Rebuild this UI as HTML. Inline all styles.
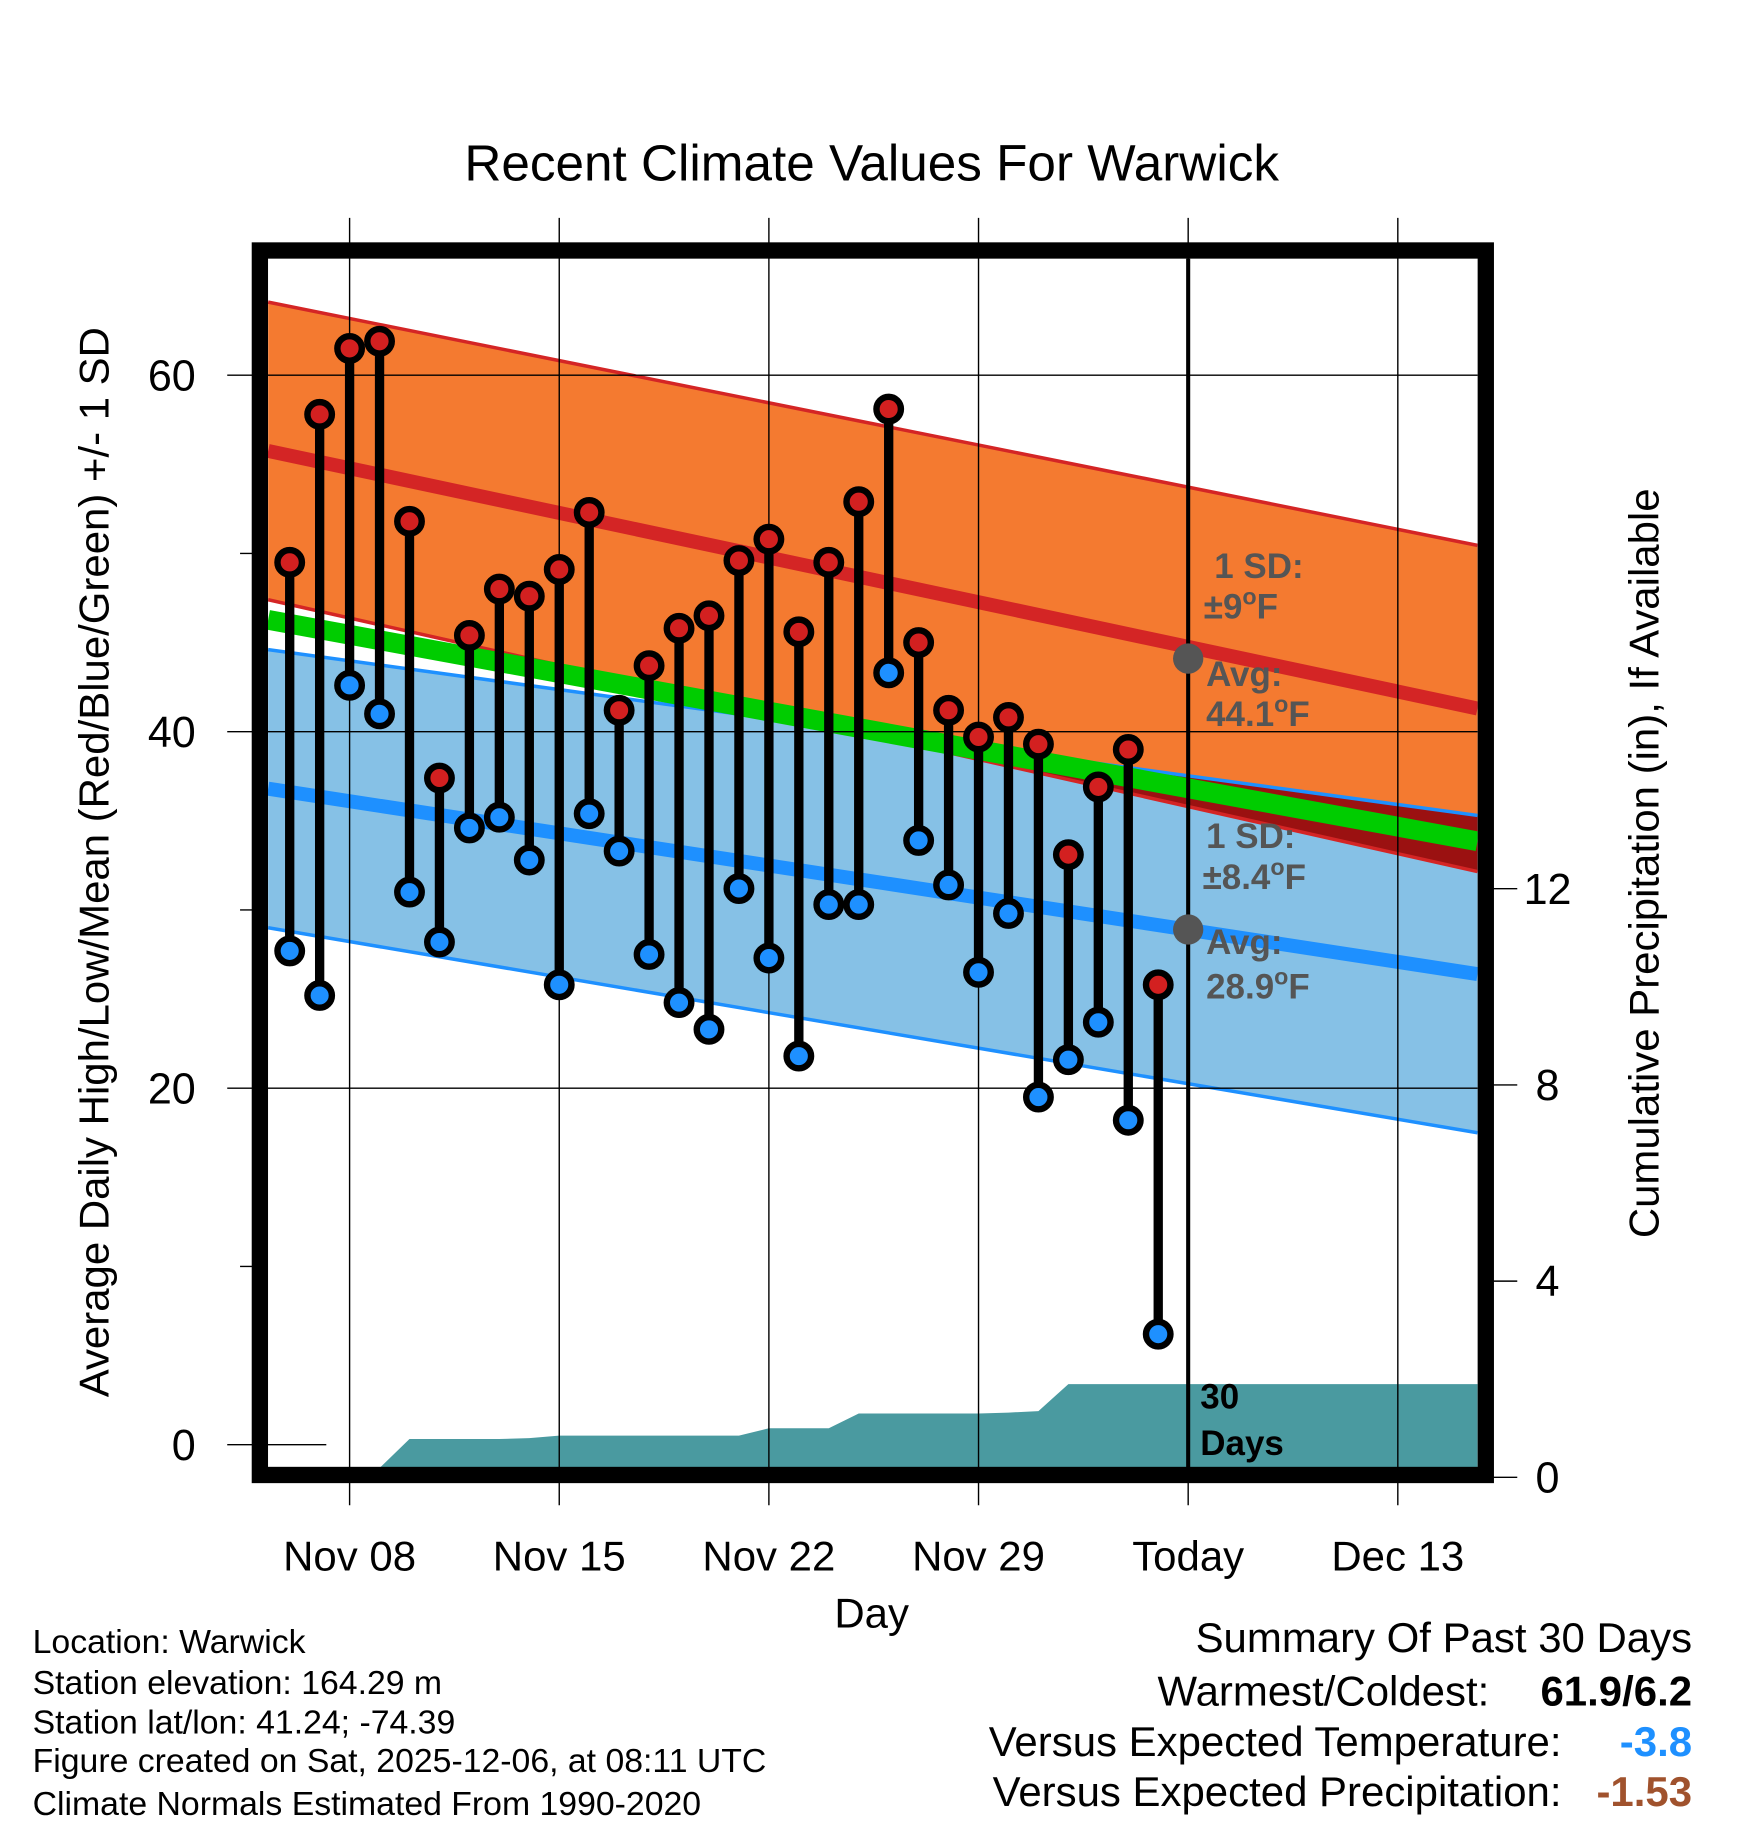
<!DOCTYPE html>
<html><head><meta charset="utf-8"><style>
html,body{margin:0;padding:0;background:#fff}
svg{display:block;font-family:"Liberation Sans",Arial,sans-serif}
</style></head><body>
<svg id="chart" width="1748" height="1828" viewBox="0 0 1500 1569" preserveAspectRatio="none" xmlns="http://www.w3.org/2000/svg">
<defs><clipPath id="plotclip"><rect x="230" y="222" width="1038" height="1038"/></clipPath></defs>
<rect x="0" y="0" width="1500" height="1569" fill="#fff"/>
<g id="bands" clip-path="url(#plotclip)"></g>
<g id="grid"></g>
<g id="marks"></g>
<rect x="223" y="215" width="1052" height="1051" fill="none" stroke="#000" stroke-width="14"/>
<text x="748" y="155" font-size="44" text-anchor="middle">Recent Climate Values For Warwick</text>
<text transform="translate(93,740) rotate(-90)" font-size="36" text-anchor="middle">Average Daily High/Low/Mean (Red/Blue/Green) +/- 1 SD</text>
<text transform="translate(1423,741) rotate(-90)" font-size="36" text-anchor="middle">Cumulative Precipitation (in), If Available</text>
<text x="748" y="1397" font-size="36" text-anchor="middle">Day</text>
<g font-size="30" font-weight="bold" fill="#555">
<text x="1042" y="496">1 SD:</text><text x="1033" y="531">±9<tspan font-size="20" dy="-12">o</tspan><tspan dy="12">F</tspan></text>
<text x="1035" y="589">Avg:</text><text x="1035" y="623">44.1<tspan font-size="20" dy="-12">o</tspan><tspan dy="12">F</tspan></text>
<text x="1035" y="728">1 SD:</text><text x="1032" y="763">±8.4<tspan font-size="20" dy="-12">o</tspan><tspan dy="12">F</tspan></text>
<text x="1035" y="819">Avg:</text><text x="1035" y="857">28.9<tspan font-size="20" dy="-12">o</tspan><tspan dy="12">F</tspan></text>
<text x="1030" y="1209" fill="#000">30</text><text x="1030" y="1249" fill="#000">Days</text>
</g>
<g font-size="29">
<text x="28" y="1419">Location: Warwick</text>
<text x="28" y="1454">Station elevation: 164.29 m</text>
<text x="28" y="1488">Station lat/lon: 41.24; -74.39</text>
<text x="28" y="1521">Figure created on Sat, 2025-12-06, at 08:11 UTC</text>
<text x="28" y="1558">Climate Normals Estimated From 1990-2020</text>
</g>
<g font-size="36">
<text x="1452" y="1418" text-anchor="end">Summary Of Past 30 Days</text>
<text x="1278" y="1464" text-anchor="end">Warmest/Coldest:</text>
<text x="1452" y="1464" text-anchor="end" font-weight="bold">61.9/6.2</text>
<text x="1340" y="1507" text-anchor="end">Versus Expected Temperature:</text>
<text x="1452" y="1507" text-anchor="end" font-weight="bold" fill="#1e90ff">-3.8</text>
<text x="1340" y="1550" text-anchor="end">Versus Expected Precipitation:</text>
<text x="1452" y="1550" text-anchor="end" font-weight="bold" fill="#a0522d">-1.53</text>
</g>
</svg>
<script>
// day index 0 = Nov 08
const days = [-2,-1,0,1,2,3,4,5,6,7,8,9,10,11,12,13,14,15,16,17,18,19,20,21,22,23,24,25,26,27];
const highs = [49.5,57.8,61.5,61.9,51.8,37.4,45.4,48.0,47.6,49.1,52.3,41.2,43.7,45.8,46.5,49.6,50.8,45.6,49.5,52.9,58.1,45.0,41.2,39.7,40.8,39.3,33.1,36.9,39.0,25.8];
const lows = [27.7,25.2,42.6,41.0,31.0,28.2,34.6,35.2,32.8,25.8,35.4,33.3,27.5,24.8,23.3,31.2,27.3,21.8,30.3,30.3,43.3,33.9,31.4,26.5,29.8,19.5,21.6,23.7,18.2,6.2];
const precip = [0,0,0,0,0.78,0.78,0.78,0.78,0.8,0.85,0.85,0.85,0.85,0.85,0.85,0.85,1.0,1.0,1.0,1.3,1.3,1.3,1.3,1.3,1.32,1.35,1.9,1.9,1.9,1.9];
const normalDays = [-2.72, 37.66];
const normalHigh = [55.75, 41.3];
const normalLow = [36.8, 26.4];
const sdHigh = [8.35, 9.15];
const sdLow = [7.8, 8.9];
const todayNormals = [44.1, 28.9];
const tickDays = [0,7,14,21,28,35];
const tickLabels = ["Nov 08","Nov 15","Nov 22","Nov 29","Today","Dec 13"];
const yTicks = [0,20,40,60];
const y2Ticks = [0,4,8,12];
const todayDay = 28;

const NS="http://www.w3.org/2000/svg";
const X = d => 300 + 25.7*d;
const Y = v => 1240 - 15.3*v;
const Y2 = p => 1268 - 42.1*p;
function mk(tag, attrs, parent){const e=document.createElementNS(NS,tag);for(const k in attrs)e.setAttribute(k,attrs[k]);parent.appendChild(e);return e;}
const bands=document.getElementById('bands'), grid=document.getElementById('grid'), marks=document.getElementById('marks');
const x0=X(normalDays[0]), x1=X(normalDays[1]);
const hiUp=[normalHigh[0]+sdHigh[0],normalHigh[1]+sdHigh[1]], hiLo=[normalHigh[0]-sdHigh[0],normalHigh[1]-sdHigh[1]];
const loUp=[normalLow[0]+sdLow[0],normalLow[1]+sdLow[1]], loLo=[normalLow[0]-sdLow[0],normalLow[1]-sdLow[1]];
const mean=[(normalHigh[0]+normalLow[0])/2,(normalHigh[1]+normalLow[1])/2];
const poly=(a,b)=>`${x0},${Y(a[0])} ${x1},${Y(a[1])} ${x1},${Y(b[1])} ${x0},${Y(b[0])}`;
let e;
e=mk('polygon',{points:poly(hiUp,hiLo),fill:'#f47a30'},bands);


e=mk('polygon',{points:poly(loUp,loLo),fill:'#86c1e6'},bands);


const dA=hiLo[0]-loUp[0], dB=hiLo[1]-loUp[1];
if(dA*dB<0){const t=dA/(dA-dB);const xc=x0+t*(x1-x0);const yc=Y(hiLo[0]+t*(hiLo[1]-hiLo[0]));
 const pts = dB<0 ? `${xc},${yc} ${x1},${Y(loUp[1])} ${x1},${Y(hiLo[1])}` : `${x0},${Y(loUp[0])} ${x0},${Y(hiLo[0])} ${xc},${yc}`;
 e=mk('polygon',{points:pts,fill:'#9b1111'},bands);
 
 }
const ln=(a,col,w,name)=>{const l=mk('line',{x1:x0,y1:Y(a[0]),x2:x1,y2:Y(a[1]),stroke:col,'stroke-width':w},bands);
 
 };
ln(hiUp,'#d42525',3,'high-upper-sd-line');ln(hiLo,'#d42525',3,'high-lower-sd-line');
ln(loUp,'#1e90ff',3,'low-upper-sd-line');ln(loLo,'#1e90ff',3,'low-lower-sd-line');
ln(mean,'#00cc00',17,'mean-normal-line');
ln(normalHigh,'#d42525',12,'avg-high-line');ln(normalLow,'#1e90ff',12,'avg-low-line');
let pp=`${X(days[0])},1260 `;days.forEach((d,i)=>pp+=`${X(d)},${Math.min(1260,Y2(precip[i]))} `);
pp+=`${x1},${Y2(precip[precip.length-1])} ${x1},1260`;
e=mk('polygon',{points:pp,fill:'#4a9aa0'},bands);


tickDays.forEach((d,i)=>{
 e=mk('line',{x1:X(d),y1:187,x2:X(d),y2:1292,stroke:'#000','stroke-width':1.2},grid);
 
 
 e=mk('text',{x:X(d),y:1348,'font-size':36,'text-anchor':'middle'},grid);e.textContent=tickLabels[i];
 
 
});
yTicks.forEach(v=>{
 e=mk('line',{x1:195,y1:Y(v),x2:v==0?280:1268,y2:Y(v),stroke:'#000','stroke-width':1.2},grid);
 
 
 e=mk('text',{x:168,y:Y(v)+13,'font-size':37,'text-anchor':'end'},grid);e.textContent=v;
 
 
});
[10,30,50].forEach(v=>{e=mk('line',{x1:206,y1:Y(v),x2:220,y2:Y(v),stroke:'#000','stroke-width':1.2},grid);
 
 });
y2Ticks.forEach(p=>{
 e=mk('line',{x1:1280,y1:Y2(p),x2:1302,y2:Y2(p),stroke:'#000','stroke-width':1.2},grid);
 
 
 e=mk('text',{x:1328,y:Y2(p)+13,'font-size':37,'text-anchor':'middle'},grid);e.textContent=p;
 
 
});
e=mk('line',{x1:X(todayDay),y1:222,x2:X(todayDay),y2:1260,stroke:'#000','stroke-width':3.5},grid);


todayNormals.forEach(v=>{e=mk('circle',{cx:X(todayDay),cy:Y(v),r:13,fill:'#555'},grid);
 
 });
days.forEach((d,i)=>{
 e=mk('line',{x1:X(d),y1:Y(highs[i]),x2:X(d),y2:Y(lows[i]),stroke:'#000','stroke-width':8},marks);
 
 
 e=mk('circle',{cx:X(d),cy:Y(highs[i]),r:10.5,fill:'#d32020',stroke:'#000','stroke-width':5.5},marks);
 
 
 e=mk('circle',{cx:X(d),cy:Y(lows[i]),r:10.5,fill:'#1e90ff',stroke:'#000','stroke-width':5.5},marks);
 
 
});
</script>
</body></html>
